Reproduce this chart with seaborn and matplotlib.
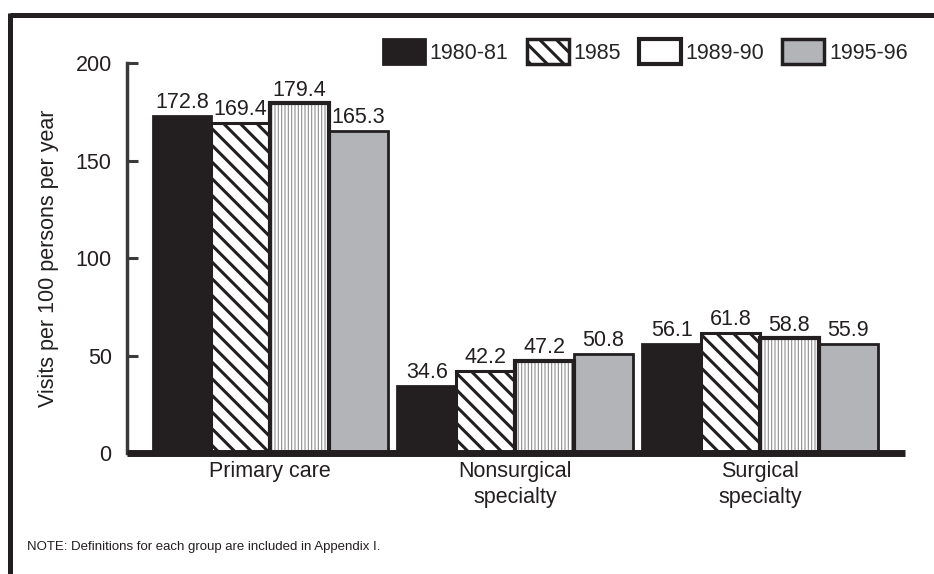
import pandas as pd
import matplotlib
matplotlib.use("Agg")
import matplotlib.pyplot as plt
from matplotlib.patches import Patch, Rectangle
from matplotlib.lines import Line2D
import seaborn as sns

# Donnees
groups = ["Primary care", "Nonsurgical\nspecialty", "Surgical\nspecialty"]
periods = ["1980-81", "1985", "1989-90", "1995-96"]
v_1980 = [172.8, 34.6, 56.1]
v_1985 = [169.4, 42.2, 61.8]
v_1989 = [179.4, 47.2, 58.8]
v_1995 = [165.3, 50.8, 55.9]
y_ticks = [0, 50, 100, 150, 200]

DARK = "#231f20"
GREY = "#b3b4b8"
FS = 15.5

sns.set_theme(style="white")
plt.rcParams["font.family"] = ["Liberation Sans", "DejaVu Sans"]
plt.rcParams["hatch.linewidth"] = 2.2

rows = []
for period, vals in zip(periods, [v_1980, v_1985, v_1989, v_1995]):
    for g, v in zip(groups, vals):
        rows.append({"group": g, "period": period, "value": v})
df = pd.DataFrame(rows)

fig = plt.figure(figsize=(9.34, 5.74), dpi=100)
ax = fig.add_axes([0.136, 0.2108, 0.833, 0.679])

palette = {"1980-81": DARK, "1985": "white", "1989-90": "white", "1995-96": GREY}
sns.barplot(data=df, x="group", y="value", hue="period", order=groups,
            hue_order=periods, palette=palette, width=0.96, gap=0,
            saturation=1, edgecolor=DARK, linewidth=2, legend=False, ax=ax)

# style des barres par periode
for p in ax.containers[1]:
    p.set_hatch("\\\\")
    p.set_edgecolor(DARK)
    p.set_linewidth(2.2)
for p in ax.containers[2]:
    p.set_hatch("|||||")
    p.set_edgecolor("#8e8e8e")
    p.set_linewidth(0)
    if hasattr(p, "set_hatch_linewidth"):
        p.set_hatch_linewidth(0.8)
    ax.add_patch(Rectangle(p.get_xy(), p.get_width(), p.get_height(),
                           fill=False, edgecolor=DARK, linewidth=3, zorder=p.get_zorder() + 0.1))
for p in ax.containers[3]:
    p.set_edgecolor(DARK)
    p.set_linewidth(2)

for cont in ax.containers:
    ax.bar_label(cont, fmt="%.1f", padding=2, fontsize=FS, color=DARK)

ax.set_xlim(-0.584, 2.592)
ax.set_ylim(0, 200)
ax.set_yticks(y_ticks)
ax.set_xlabel("")
ax.set_ylabel("Visits per 100 persons per year", fontsize=FS, color=DARK, labelpad=12)
ax.tick_params(axis="y", direction="in", length=8, width=2.2, color="#3a3a3a",
               labelsize=FS, labelcolor=DARK, pad=11, left=True)
ax.tick_params(axis="x", length=0, labelsize=FS, labelcolor=DARK, pad=6)
for lab in ax.get_xticklabels():
    lab.set_linespacing(1.3)

sns.despine(ax=ax, top=True, right=True)
ax.spines["left"].set_linewidth(2.5)
ax.spines["left"].set_color("#3a3a3a")
ax.spines["bottom"].set_linewidth(5)
ax.spines["bottom"].set_color(DARK)
ax.spines["bottom"].set_capstyle("butt")

# legende
handles = [
    Patch(facecolor=DARK, edgecolor=DARK, linewidth=2),
    Patch(facecolor="white", edgecolor=DARK, hatch="\\\\", linewidth=2.5),
    Patch(facecolor="white", edgecolor=DARK, linewidth=3),
    Patch(facecolor=GREY, edgecolor=DARK, linewidth=2.5),
]
fig.legend(handles, periods, loc="upper left", bbox_to_anchor=(383 / 934, 1 - 39 / 574),
           ncol=4, frameon=False, fontsize=FS, handlelength=1.95, handleheight=1.4,
           handletextpad=0.22, columnspacing=0.84, borderpad=0, borderaxespad=0)

# cadre de la figure (haut et gauche)
fig.add_artist(Line2D([9.5 / 934, 1], [1 - 15 / 574, 1 - 15 / 574], color=DARK,
                      linewidth=3.6, solid_capstyle="butt"))
fig.add_artist(Line2D([9.5 / 934, 9.5 / 934], [0, 1 - 15 / 574 + 0.004], color=DARK,
                      linewidth=3.6, solid_capstyle="butt"))

fig.text(27 / 934, 1 - 547 / 574, "NOTE: Definitions for each group are included in Appendix I.",
         fontsize=9.5, color=DARK, va="center", ha="left")

fig.savefig("out.png", dpi=100)
